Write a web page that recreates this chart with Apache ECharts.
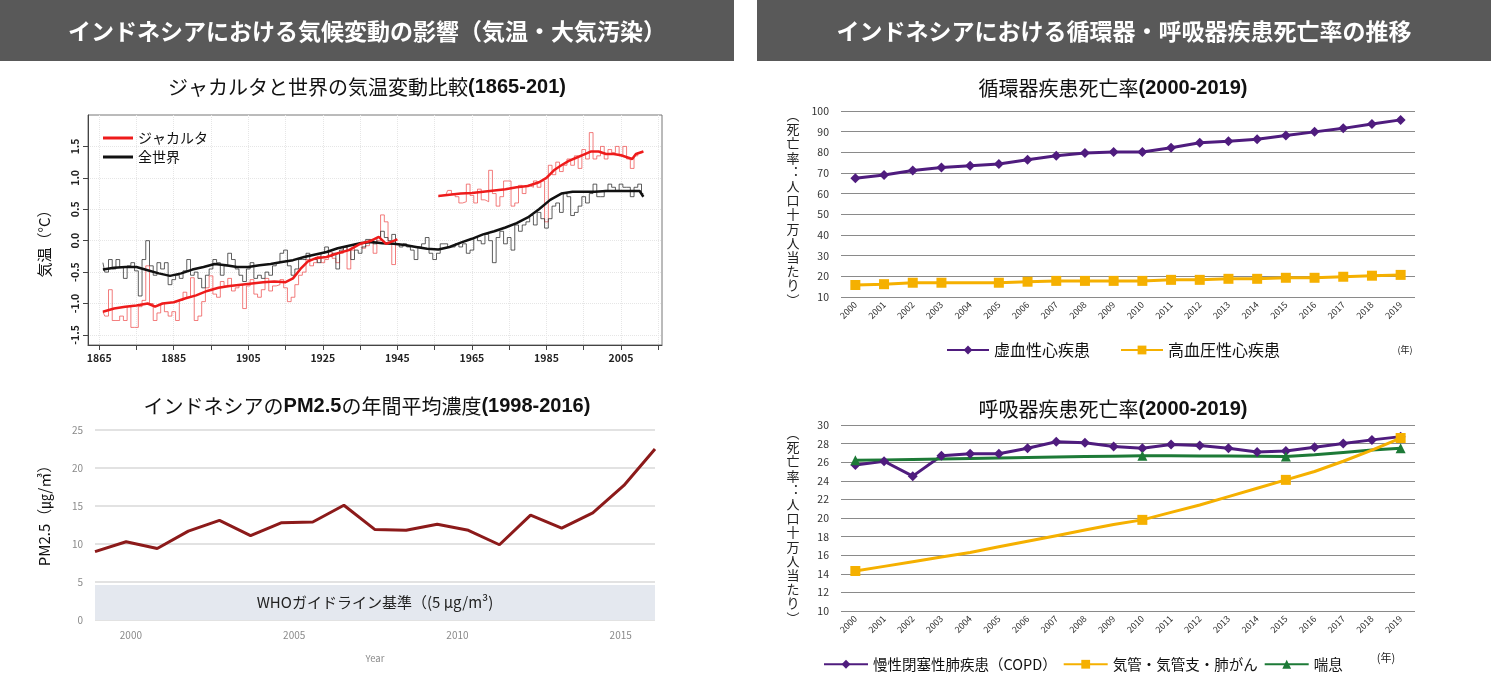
<!DOCTYPE html>
<html>
<head>
<meta charset="utf-8">
<title>インドネシア 気候変動と疾患死亡率</title>
<script src="https://cdn.jsdelivr.net/npm/echarts@6/dist/echarts.min.js"></script>
<style>
html, body { margin: 0; padding: 0; background: #fff; }
#main { width: 1491px; height: 689px; }
</style>
</head>
<body>
<div id="main"></div>
<script>
"use strict";

// ---- temperature (annual anomaly, thin step lines) ----
var jakartaStart1 = 1866;
var jakartaAnnual1 = [
	-1.13, -1.2, -0.78, -1.27, -1.27, -1.2, -1.27, -1.05, -1.38, -1.38,
	-1.05, -0.95, -0.4, -1.0, -1.27, -1.15, -1.0, -1.13, -1.2, -1.13,
	-1.27, -0.95, -0.82, -0.9, -0.59, -1.27, -1.2, -0.97, -0.75, -0.56,
	-0.85, -0.9, -0.65, -0.72, -0.6, -0.8, -0.75, -0.7, -1.08, -0.72,
	-0.62, -0.85, -0.9, -0.78, -0.6, -0.8, -0.72, -0.7, -0.62, -0.75,
	-0.97, -0.9, -0.7, -0.55, -0.5, -0.3, -0.4, -0.35, -0.25, -0.35,
	-0.3, -0.18, -0.28, -0.35, -0.2, -0.1, -0.45, -0.15, -0.05, -0.02,
	-0.12, -0.08, 0.02, -0.2, 0.0, 0.41, 0.3, -0.05, -0.38, 0.02
];
var jakartaStart2 = 1956;
var jakartaAnnual2 = [
	0.7, 0.72, 0.73, 0.8, 0.75, 0.7, 0.6, 0.62, 0.9, 0.72,
	0.6, 0.82, 0.65, 0.62, 1.12, 0.75, 0.55, 0.7, 0.95, 0.95,
	0.55, 0.6, 0.88, 0.75, 0.88, 0.85, 0.95, 0.85, 0.95, 0.3,
	1.2, 1.05, 1.25, 1.1, 1.2, 1.3, 1.2, 1.35, 1.15, 1.45,
	1.3, 1.72, 1.3, 1.35, 1.5, 1.3, 1.45, 1.4, 1.5, 1.35,
	1.5, 1.3, 1.15, 1.35, 1.4, 1.42
];
var globalStart = 1866;
var globalAnnual = [
	-0.35, -0.5, -0.3, -0.45, -0.3, -0.42, -0.6, -0.4, -0.35, -0.48,
	-0.88, -0.3, 0.0, -0.4, -0.55, -0.35, -0.45, -0.35, -0.7, -0.62,
	-0.55, -0.6, -0.48, -0.3, -0.55, -0.5, -0.6, -0.75, -0.55, -0.45,
	-0.3, -0.35, -0.55, -0.4, -0.2, -0.3, -0.45, -0.55, -0.65, -0.45,
	-0.35, -0.6, -0.55, -0.6, -0.5, -0.55, -0.4, -0.35, -0.2, -0.15,
	-0.4, -0.55, -0.45, -0.3, -0.3, -0.2, -0.3, -0.3, -0.35, -0.2,
	-0.1, -0.25, -0.2, -0.45, -0.15, -0.1, -0.15, -0.3, -0.15, -0.2,
	-0.1, 0.02, 0.0, -0.05, 0.05, 0.15, 0.05, 0.0, 0.1, -0.05,
	-0.1, -0.05, -0.1, -0.15, -0.3, -0.1, -0.05, 0.05, -0.2, -0.3,
	-0.2, -0.05, -0.05, -0.1, -0.1, -0.05, -0.1, -0.05, -0.2, -0.15,
	0.05, 0.0, -0.05, 0.1, 0.0, -0.35, 0.05, 0.15, -0.05, 0.05,
	-0.15, 0.25, 0.15, 0.25, 0.3, 0.4, 0.25, 0.45, 0.35, 0.2,
	0.35, 0.55, 0.6, 0.45, 0.75, 0.7, 0.4, 0.45, 0.55, 0.7,
	0.6, 0.75, 0.9, 0.7, 0.7, 0.8, 0.9, 0.85, 0.8, 0.9,
	0.85, 0.85, 0.7, 0.85, 0.9, 0.75
];

// ---- temperature (smoothed, thick lines) ----
var jakartaSmoothYears1 = [1866, 1869, 1872, 1875, 1878, 1880, 1882, 1885, 1888, 1891, 1894, 1897, 1900, 1903, 1906, 1909, 1912, 1915, 1917, 1919, 1921, 1923, 1926, 1929, 1932, 1935, 1938, 1940, 1942, 1945];
var jakartaSmooth1 = [-1.13, -1.08, -1.05, -1.03, -1.0, -1.05, -1.0, -0.98, -0.92, -0.87, -0.8, -0.75, -0.72, -0.7, -0.68, -0.66, -0.65, -0.66, -0.6, -0.45, -0.33, -0.28, -0.26, -0.2, -0.15, -0.05, 0.0, 0.06, -0.05, 0.02];
var jakartaSmoothYears2 = [1956, 1959, 1962, 1965, 1968, 1971, 1974, 1977, 1980, 1983, 1985, 1987, 1989, 1991, 1993, 1995, 1997, 1999, 2001, 2003, 2005, 2007, 2008, 2009, 2010, 2011];
var jakartaSmooth2 = [0.71, 0.73, 0.75, 0.76, 0.78, 0.8, 0.82, 0.85, 0.87, 0.93, 1.0, 1.12, 1.2, 1.27, 1.32, 1.37, 1.42, 1.42, 1.38, 1.38, 1.36, 1.32, 1.3, 1.38, 1.4, 1.42];
var globalSmoothYears = [1866, 1869, 1872, 1875, 1878, 1881, 1884, 1887, 1890, 1893, 1896, 1899, 1902, 1905, 1908, 1911, 1914, 1917, 1920, 1923, 1926, 1929, 1932, 1935, 1938, 1941, 1944, 1947, 1950, 1953, 1956, 1959, 1962, 1965, 1968, 1971, 1974, 1977, 1980, 1983, 1986, 1989, 1992, 1995, 1998, 2001, 2004, 2007, 2010, 2011];
var globalSmooth = [-0.46, -0.43, -0.42, -0.42, -0.47, -0.52, -0.56, -0.52, -0.46, -0.42, -0.37, -0.39, -0.42, -0.42, -0.39, -0.37, -0.34, -0.31, -0.26, -0.22, -0.18, -0.12, -0.08, -0.04, -0.02, -0.04, -0.05, -0.07, -0.1, -0.13, -0.14, -0.1, -0.03, 0.03, 0.1, 0.15, 0.21, 0.28, 0.37, 0.5, 0.65, 0.75, 0.78, 0.78, 0.78, 0.79, 0.79, 0.79, 0.79, 0.7];
var tempTicksY = [-1.5, -1.0, -0.5, 0.0, 0.5, 1.0, 1.5];
var tempTicksX = [1865, 1875, 1885, 1895, 1905, 1915, 1925, 1935, 1945, 1955, 1965, 1975, 1985, 1995, 2005, 2015];
var tempLabelsX = [1865, 1885, 1905, 1925, 1945, 1965, 1985, 2005];

// ---- PM2.5 ----
var pmStart = 1998;
var pmValues = [9.0, 10.3, 9.4, 11.7, 13.1, 11.1, 12.8, 12.9, 15.1, 11.9, 11.8, 12.6, 11.8, 9.9, 13.8, 12.1, 14.1, 17.7, 22.5];
var pmYearLabels = [2000, 2005, 2010, 2015];
var whoBandTop = 4.6;

// ---- death rates (per 100,000) ----
var rateYears = ["2000", "2001", "2002", "2003", "2004", "2005", "2006", "2007", "2008", "2009",
	"2010", "2011", "2012", "2013", "2014", "2015", "2016", "2017", "2018", "2019"];
var ischemic = [67.5, 69.0, 71.2, 72.7, 73.5, 74.4, 76.4, 78.3, 79.7, 80.2, 80.2, 82.2, 84.6, 85.4, 86.3, 88.1, 89.9, 91.6, 93.7, 95.7];
var hypertensive = [15.8, 16.2, 16.9, 16.9, 16.9, 16.9, 17.4, 17.8, 17.8, 17.8, 17.8, 18.3, 18.3, 18.8, 18.8, 19.3, 19.3, 19.8, 20.3, 20.7];
var hypertensiveNoMarker = ["2004"];
var copd = [25.7, 26.1, 24.5, 26.7, 26.9, 26.9, 27.5, 28.2, 28.1, 27.7, 27.5, 27.9, 27.8, 27.5, 27.1, 27.2, 27.6, 28.0, 28.4, 28.75];
var lungCancer = [14.3, 14.8, 15.3, 15.8, 16.3, 16.9, 17.5, 18.1, 18.7, 19.3, 19.8, 20.6, 21.4, 22.3, 23.2, 24.1, 25.0, 26.1, 27.3, 28.6];
var asthma = [26.2, 26.25, 26.3, 26.35, 26.4, 26.45, 26.5, 26.55, 26.6, 26.65, 26.7, 26.7, 26.68, 26.66, 26.63, 26.6, 26.8, 27.05, 27.3, 27.5];
var markedYears = ["2000", "2010", "2015", "2019"];

var FONT = '"Noto Sans CJK JP", "Noto Sans", sans-serif';
var PURPLE = "#4f1c7e", ORANGE = "#f5b000", GREEN = "#1d7a37";

function byStart(start, values) {
	return values.map(function (v, i) { return [start + i, v]; });
}
function byYears(years, values) {
	return values.map(function (v, i) { return [years[i], v]; });
}
// markers only on some categories
function sparseMarkers(values, keep, invert) {
	return values.map(function (v, i) {
		var hit = keep.indexOf(rateYears[i]) >= 0;
		if (invert ? hit : !hit) {
			return { value: v, symbol: "none" };
		}
		return v;
	});
}
function plainNumber(v) {
	return String(v);
}

function hText(x, y, parts, size) {
	return {
		type: "text", x: x, y: y, z: 100,
		style: {
			text: parts, textAlign: "center", textVerticalAlign: "middle",
			fontFamily: FONT, fontSize: size, fill: "#111",
			rich: {
				t: { fontFamily: FONT, fontSize: size, fill: "#111" },
				b: { fontFamily: "Liberation Sans, Arial, sans-serif", fontSize: size, fontWeight: "bold", fill: "#111" }
			}
		}
	};
}
function verticalName(x, y) {
	var chars = ["︵", "死", "亡", "率", "︓", "人", "口", "十", "万", "人", "当", "た", "り", "︶"];
	return {
		type: "text", x: x, y: y,
		style: {
			text: chars.join("\n"), textAlign: "center", textVerticalAlign: "top",
			fontFamily: FONT, fontSize: 13, lineHeight: 14.2, fill: "#222"
		}
	};
}

var chart = echarts.init(document.getElementById("main"));

var rateAxisX = function (grid) {
	return {
		gridIndex: grid, type: "category", data: rateYears, boundaryGap: true,
		axisLine: { show: false }, axisTick: { show: false },
		axisLabel: { rotate: 45, fontSize: 9, color: "#333", interval: 0, margin: 6 }
	};
};
var rateAxisY = function (grid, min, max, step) {
	return {
		gridIndex: grid, type: "value", min: min, max: max, interval: step,
		axisLine: { show: false }, axisTick: { show: false },
		axisLabel: { fontSize: 10.5, color: "#333", margin: 12 },
		splitLine: { lineStyle: { color: "#8a8a8a", width: 1.2 } }
	};
};

var option = {
	animation: false,
	textStyle: { fontFamily: FONT },
	grid: [
		{ left: 88, top: 115, width: 574, height: 230, show: true, borderColor: "#777", borderWidth: 1 },
		{ left: 95, top: 430, width: 560, height: 190 },
		{ left: 841, top: 111, width: 574, height: 186 },
		{ left: 841, top: 425, width: 574, height: 186 }
	],
	xAxis: [
		{
			gridIndex: 0, type: "value", min: 1862, max: 2016,
			axisLine: { onZero: false, lineStyle: { color: "#444" } },
			axisTick: { customValues: tempTicksX, length: 5, lineStyle: { color: "#444" } },
			axisLabel: { customValues: tempLabelsX, formatter: plainNumber, fontSize: 10.5, color: "#222", margin: 8, fontWeight: "bold" },
			splitLine: { show: true, lineStyle: { color: "#e6e6e6", type: "dotted" } }
		},
		{ gridIndex: 1, type: "value", min: pmStart, max: pmStart + pmValues.length - 1, show: false },
		{
			gridIndex: 1, type: "value", min: 1998.9, max: 2016.05, position: "bottom",
			axisLine: { show: false }, axisTick: { show: false },
			splitLine: { show: false },
			axisLabel: { customValues: pmYearLabels, formatter: plainNumber, fontSize: 10, color: "#8a8a8a", margin: 10 },
			name: "Year", nameLocation: "middle", nameGap: 34,
			nameTextStyle: { fontSize: 9.5, color: "#8a8a8a" }
		},
		rateAxisX(2),
		rateAxisX(3)
	],
	yAxis: [
		{
			gridIndex: 0, type: "value", min: -1.66, max: 2.0,
			axisLine: { show: true, onZero: false, lineStyle: { color: "#444" } },
			axisTick: { show: true, customValues: tempTicksY, length: 5, lineStyle: { color: "#444" } },
			axisLabel: {
				customValues: tempTicksY, rotate: 90, fontSize: 10.5, color: "#222", margin: 8, fontWeight: "bold",
				formatter: function (v) { return v.toFixed(1); }
			},
			splitLine: { show: true, lineStyle: { color: "#e6e6e6", type: "dotted" } }
		},
		{
			gridIndex: 1, type: "value", min: 0, max: 25, interval: 5,
			axisLine: { show: false }, axisTick: { show: false },
			axisLabel: { fontSize: 10, color: "#8a8a8a", margin: 12 },
			splitLine: { lineStyle: { color: "#e2e2e2", width: 2 } }
		},
		rateAxisY(2, 10, 100, 10),
		rateAxisY(3, 10, 30, 2)
	],
	legend: [
		{
			data: ["ジャカルタ", "全世界"], orient: "vertical", left: 98, top: 126,
			icon: "rect", itemWidth: 30, itemHeight: 3, itemGap: 5,
			textStyle: { fontSize: 14, color: "#111" }
		},
		{
			data: ["虚血性心疾患", "高血圧性心疾患"], left: 941, top: 337,
			itemWidth: 42, itemHeight: 11, itemGap: 30,
			textStyle: { fontSize: 16, color: "#111" }
		},
		{
			data: ["慢性閉塞性肺疾患（COPD）", "気管・気管支・肺がん", "喘息"], left: 818, top: 652,
			itemWidth: 44, itemHeight: 11, itemGap: 6,
			textStyle: { fontSize: 14.5, color: "#111" }
		}
	],
	series: [
		// temperature: annual steps
		{
			name: "ジャカルタ年値", type: "line", xAxisIndex: 0, yAxisIndex: 0, step: "middle",
			data: byStart(jakartaStart1, jakartaAnnual1), symbol: "none", silent: true,
			lineStyle: { color: "rgba(236,70,70,0.7)", width: 1 }
		},
		{
			name: "ジャカルタ年値", type: "line", xAxisIndex: 0, yAxisIndex: 0, step: "middle",
			data: byStart(jakartaStart2, jakartaAnnual2), symbol: "none", silent: true,
			lineStyle: { color: "rgba(236,70,70,0.7)", width: 1 }
		},
		{
			name: "全世界年値", type: "line", xAxisIndex: 0, yAxisIndex: 0, step: "middle",
			data: byStart(globalStart, globalAnnual), symbol: "none", silent: true,
			lineStyle: { color: "rgba(40,40,40,0.75)", width: 1 }
		},
		// temperature: smoothed
		{
			name: "全世界", type: "line", xAxisIndex: 0, yAxisIndex: 0,
			data: byYears(globalSmoothYears, globalSmooth), symbol: "none",
			itemStyle: { color: "#111" }, lineStyle: { color: "#111", width: 2.5 }
		},
		{
			name: "ジャカルタ", type: "line", xAxisIndex: 0, yAxisIndex: 0,
			data: byYears(jakartaSmoothYears1, jakartaSmooth1), symbol: "none",
			itemStyle: { color: "#ee1b1b" }, lineStyle: { color: "#ee1b1b", width: 2.5 }
		},
		{
			name: "ジャカルタ", type: "line", xAxisIndex: 0, yAxisIndex: 0,
			data: byYears(jakartaSmoothYears2, jakartaSmooth2), symbol: "none",
			itemStyle: { color: "#ee1b1b" }, lineStyle: { color: "#ee1b1b", width: 2.5 }
		},
		// PM2.5
		{
			name: "PM2.5", type: "line", xAxisIndex: 1, yAxisIndex: 1,
			data: byStart(pmStart, pmValues), symbol: "none",
			lineStyle: { color: "#8c1a1a", width: 3 },
			markArea: {
				silent: true,
				itemStyle: { color: "#e4e8ef" },
				label: {
					show: true, position: "inside", color: "#222", fontSize: 15,
					fontFamily: FONT, formatter: "WHOガイドライン基準（(5 µg/m³)"
				},
				data: [[{ yAxis: 0 }, { yAxis: whoBandTop }]]
			}
		},
		// circulatory
		{
			name: "虚血性心疾患", type: "line", xAxisIndex: 3, yAxisIndex: 2,
			data: ischemic, symbol: "diamond", symbolSize: 10,
			itemStyle: { color: PURPLE }, lineStyle: { color: PURPLE, width: 3 }
		},
		{
			name: "高血圧性心疾患", type: "line", xAxisIndex: 3, yAxisIndex: 2,
			data: sparseMarkers(hypertensive, hypertensiveNoMarker, true), symbol: "rect", symbolSize: 10,
			itemStyle: { color: ORANGE }, lineStyle: { color: ORANGE, width: 3 }
		},
		// respiratory
		{
			name: "慢性閉塞性肺疾患（COPD）", type: "line", xAxisIndex: 4, yAxisIndex: 3,
			data: copd, symbol: "diamond", symbolSize: 10,
			itemStyle: { color: PURPLE }, lineStyle: { color: PURPLE, width: 3 }
		},
		{
			name: "喘息", type: "line", xAxisIndex: 4, yAxisIndex: 3,
			data: sparseMarkers(asthma, markedYears, false), symbol: "triangle", symbolSize: 10,
			itemStyle: { color: GREEN }, lineStyle: { color: GREEN, width: 3 }
		},
		{
			name: "気管・気管支・肺がん", type: "line", xAxisIndex: 4, yAxisIndex: 3,
			data: sparseMarkers(lungCancer, markedYears, false), symbol: "rect", symbolSize: 10,
			itemStyle: { color: ORANGE }, lineStyle: { color: ORANGE, width: 3 }
		}
	],
	graphic: [
		// header bars
		{ type: "rect", shape: { x: 0, y: 0, width: 734, height: 61 }, style: { fill: "#595959" } },
		{ type: "rect", shape: { x: 757, y: 0, width: 734, height: 61 }, style: { fill: "#595959" } },
		{
			type: "text", x: 367, y: 31,
			style: { text: "インドネシアにおける気候変動の影響（気温・大気汚染）", textAlign: "center", textVerticalAlign: "middle",
				fontFamily: FONT, fontSize: 23, fontWeight: "bold", fill: "#fff" }
		},
		{
			type: "text", x: 1124, y: 31,
			style: { text: "インドネシアにおける循環器・呼吸器疾患死亡率の推移", textAlign: "center", textVerticalAlign: "middle",
				fontFamily: FONT, fontSize: 23, fontWeight: "bold", fill: "#fff" }
		},
		// chart titles
		hText(367, 87, "{t|ジャカルタと世界の気温変動比較}{b|(1865-201)}", 20),
		hText(367, 406, "{t|インドネシアの}{b|PM2.5}{t|の年間平均濃度}{b|(1998-2016)}", 20),
		hText(1113, 88, "{t|循環器疾患死亡率}{b|(2000-2019)}", 20),
		hText(1113, 409, "{t|呼吸器疾患死亡率}{b|(2000-2019)}", 20),
		// axis names
		{
			type: "text", x: 44, y: 240, rotation: Math.PI / 2,
			style: { text: "気温（°C）", textAlign: "center", textVerticalAlign: "middle", fontFamily: FONT, fontSize: 15, fill: "#111" }
		},
		{
			type: "text", x: 44, y: 512, rotation: Math.PI / 2,
			style: { text: "PM2.5（㎍/㎥）", textAlign: "center", textVerticalAlign: "middle", fontFamily: FONT, fontSize: 15, fill: "#111" }
		},
		verticalName(793, 108),
		verticalName(793, 426),
		{
			type: "text", x: 1405, y: 350,
			style: { text: "(年)", textAlign: "center", textVerticalAlign: "middle", fontFamily: FONT, fontSize: 9, fill: "#222" }
		},
		{
			type: "text", x: 1386, y: 658,
			style: { text: "(年)", textAlign: "center", textVerticalAlign: "middle", fontFamily: FONT, fontSize: 11, fill: "#222" }
		}
	]
};

chart.setOption(option);
</script>
</body>
</html>
